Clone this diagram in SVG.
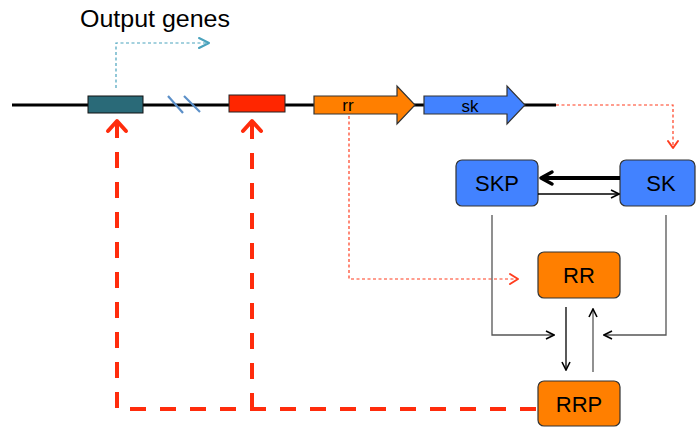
<svg xmlns="http://www.w3.org/2000/svg" width="696" height="427" viewBox="0 0 696 427">
<style>
text{font-family:"Liberation Sans",Arial,sans-serif;fill:#000}
.box{stroke:#333;stroke-width:1.2}
.blue{fill:#4282ff}
.orange{fill:#ff7f00}
.thin{stroke:#000;stroke-width:1.3;fill:none}
.gray{stroke:#555;stroke-width:1.3;fill:none}
.reddot{stroke:#ff3d1f;stroke-width:1.2;stroke-dasharray:3 2.5;fill:none}
.reddash{stroke:#ff2c0c;stroke-width:4;stroke-dasharray:16 14;fill:none}
.head{fill:none;stroke-linecap:round;stroke-linejoin:round}
</style>
<defs>
<marker id="open" viewBox="0 0 10 10" refX="9" refY="5" markerWidth="10" markerHeight="10" markerUnits="userSpaceOnUse" orient="auto">
<path d="M1,1 L9,5 L1,9" fill="none" stroke="#000" stroke-width="1.6"/>
</marker>
</defs>
<g id="dna">
<line x1="12" y1="105" x2="556" y2="105" stroke="#000" stroke-width="3"/>
<rect x="88" y="96" width="55" height="17" fill="#2a6a78" stroke="#111" stroke-width="1"/>
<line x1="168" y1="96" x2="183" y2="113" stroke="#5b8fc8" stroke-width="2.2"/>
<line x1="184" y1="96" x2="200" y2="112" stroke="#5b8fc8" stroke-width="2.2"/>
<rect x="229" y="95" width="56" height="17" fill="#ff2600" stroke="#222" stroke-width="1"/>
</g>
<g id="gene-rr">
<path d="M314,96 L397,96 L397,86 L415,105 L397,124 L397,114 L314,114 Z" class="box orange"/>
<text x="348" y="111" font-size="17" text-anchor="middle">rr</text>
</g>
<g id="gene-sk">
<path d="M424,96 L507,96 L507,86 L525,105 L507,124 L507,114 L424,114 Z" class="box blue"/>
<text x="470" y="112" font-size="17" text-anchor="middle">sk</text>
</g>
<g id="output">
<text x="80" y="27" font-size="24" font-family="Open Sans,Liberation Sans,sans-serif" textLength="150" lengthAdjust="spacingAndGlyphs">Output genes</text>
</g>
<g id="SKP">
<rect x="456" y="160" width="82" height="46" rx="6" class="box blue"/>
<text x="497" y="191" font-size="22" text-anchor="middle">SKP</text>
</g>
<g id="SK">
<rect x="620" y="160" width="75" height="46" rx="6" class="box blue"/>
<text x="661" y="191" font-size="22" text-anchor="middle">SK</text>
</g>
<g id="RR">
<rect x="538" y="252" width="82" height="46" rx="6" class="box orange"/>
<text x="579" y="283" font-size="22" text-anchor="middle">RR</text>
</g>
<g id="RRP">
<rect x="538" y="381" width="82" height="45" rx="6" class="box orange"/>
<text x="579" y="412" font-size="22" text-anchor="middle">RRP</text>
</g>
<g id="connectors">
<path d="M116,88 V43 H208" fill="none" stroke="#4aa3bd" stroke-width="1.2" stroke-dasharray="3 2.5"/>
<path d="M199,38 L209,43 L199,48" class="head" stroke="#4aa3bd" stroke-width="2"/>
<path d="M556,105 H673 V146" class="reddot"/>
<path d="M668,141 L673,148 L678,141" class="head" stroke="#ff3d1f" stroke-width="2"/>
<path d="M349,116 V279 H517" class="reddot"/>
<path d="M510,274 L518,279 L510,284" class="head" stroke="#ff3d1f" stroke-width="2"/>
<line x1="620" y1="178" x2="543" y2="178" stroke="#000" stroke-width="4"/>
<path d="M552,172 L541,178 L552,184" class="head" stroke="#000" stroke-width="3.5"/>
<line x1="538" y1="194" x2="619" y2="194" class="thin" marker-end="url(#open)"/>
<path d="M492,215 V335 H554" class="gray" marker-end="url(#open)"/>
<path d="M666,215 V335 H604" class="gray" marker-end="url(#open)"/>
<line x1="566" y1="307" x2="566" y2="370" class="thin" marker-end="url(#open)"/>
<line x1="593" y1="372" x2="593" y2="309" class="gray" marker-end="url(#open)"/>
<path d="M536,409 H117 V124" class="reddash"/>
<path d="M252,409 V124" class="reddash"/>
<path d="M108,131 L117,121 L126,131" class="head" stroke="#ff2c0c" stroke-width="4"/>
<path d="M243,131 L252,121 L261,131" class="head" stroke="#ff2c0c" stroke-width="4"/>
</g>
</svg>
